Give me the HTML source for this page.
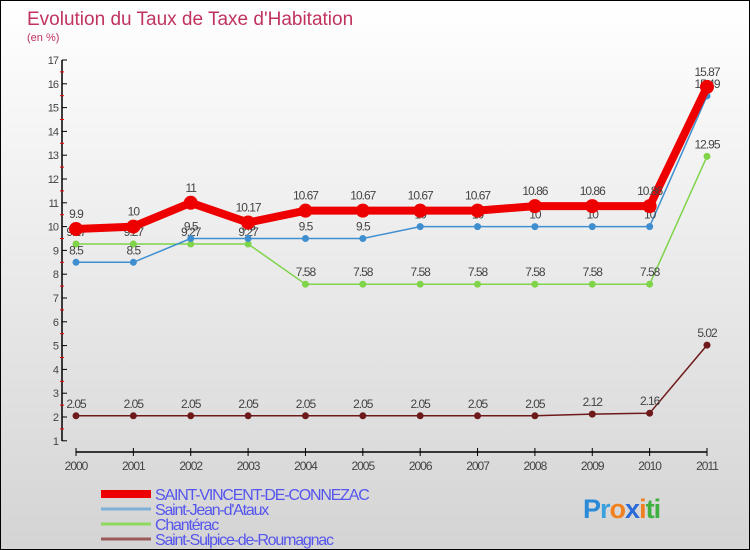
<!DOCTYPE html>
<html><head><meta charset="utf-8"><style>
body{margin:0}
#c{width:750px;height:550px;position:relative;box-sizing:border-box;border:1px solid #000;background:linear-gradient(#ffffff,#d4d4d4);font-family:"Liberation Sans",sans-serif;overflow:hidden}
svg text{font-family:"Liberation Sans",sans-serif}
</style></head><body>
<div id="c">
<svg id="s" width="750" height="550">
<text x="26" y="24" font-size="19" fill="#c0335f">Evolution du Taux de Taxe d'Habitation</text>
<text x="26" y="40" font-size="11" fill="#c0335f">(en %)</text>
</svg>
</div>
<script>
const years=["2000","2001","2002","2003","2004","2005","2006","2007","2008","2009","2010","2011"];
const yTicks=[1,2,3,4,5,6,7,8,9,10,11,12,13,14,15,16,17];
const redVals=[9.9,10,11,10.17,10.67,10.67,10.67,10.67,10.86,10.86,10.86,15.87];
const blueVals=[8.5,8.5,9.5,9.5,9.5,9.5,10,10,10,10,10,15.49];
const greenVals=[9.27,9.27,9.27,9.27,7.58,7.58,7.58,7.58,7.58,7.58,7.58,12.95];
const brownVals=[2.05,2.05,2.05,2.05,2.05,2.05,2.05,2.05,2.05,2.12,2.16,5.02];
const seriesNames=["SAINT-VINCENT-DE-CONNEZAC","Saint-Jean-d'Ataux","Chantérac","Saint-Sulpice-de-Roumagnac"];
const NS="http://www.w3.org/2000/svg",s=document.getElementById('s');
const X=i=>75+i*(631/11), Y=v=>416-(v-2)*23.8;
function el(t,a,p){const e=document.createElementNS(NS,t);for(const k in a)e.setAttribute(k,a[k]);(p||s).appendChild(e);return e;}
// axes
let ax=el('line',{x1:61,y1:59,x2:61,y2:440,stroke:'#000','stroke-width':1.5});


yTicks.forEach(v=>{
 el('line',{x1:61,y1:Y(v),x2:66,y2:Y(v),stroke:'#000'});
 if(v<17) el('line',{x1:59,y1:Y(v+0.5),x2:63,y2:Y(v+0.5),stroke:'#e00'});
 const t=el('text',{x:57,y:Y(v)+4,'font-size':11,fill:'#444','text-anchor':'end','letter-spacing':'-1'});
 t.textContent=v;
 
 
});
let xa=el('line',{x1:75,y1:451,x2:706,y2:451,stroke:'#000','stroke-width':1.5});


years.forEach((y,i)=>{
 el('line',{x1:X(i),y1:447,x2:X(i),y2:455,stroke:'#000'});
 const t=el('text',{x:X(i),y:469,'font-size':12,fill:'#444','text-anchor':'middle','letter-spacing':'-1'});
 t.textContent=y;
 
 
});
function series(vals,color,w,r,name,lblDy){
 const g=el('g',{});
 
 
 el('polyline',{points:vals.map((v,i)=>X(i)+','+Y(v)).join(' '),fill:'none',stroke:color,'stroke-width':w,'stroke-linejoin':'round'},g);
 vals.forEach((v,i)=>{
  const c=el('circle',{cx:X(i),cy:Y(v),r:r,fill:color},g);
  
  
  const t=el('text',{x:X(i),y:Y(v)-lblDy,'font-size':12,fill:'#444','text-anchor':'middle','letter-spacing':'-1'},g);
  t.textContent=String(v);
  
  
 });
}
series(brownVals,'#6e1a1a',1.5,3.5,'series-saint-sulpice',8);
series(greenVals,'#7fd44a',1.5,3.5,'series-chanterac',8);
series(blueVals,'#3f8fd0',1.5,3.5,'series-saint-jean',8);
series(redVals,'#ee0000',8,7,'series-saint-vincent',11);
// legend
const lc=['#ee0000','#7fb0d8','#8fd860','#9a5a5a'],lw=[8,3,3,3];
seriesNames.forEach((n,i)=>{
 const y=493+i*15;
 const l=el('line',{x1:100,y1:y,x2:150,y2:y,stroke:lc[i],'stroke-width':lw[i]});
 
 
 const t=el('text',{x:154,y:y+6,'font-size':16,fill:'#5555ee','letter-spacing':'-1.2'});
 t.textContent=n;
 
 
});
// logo
const lg=el('text',{x:582,y:517,'font-size':27,'font-weight':'bold','letter-spacing':'-1'});


[['P','#2a8ad8'],['r','#3aa0e0'],['o','#f08020'],['x','#2a6ad8'],['i','#f08020'],['t','#40b040'],['i','#40b040']].forEach(([c,f])=>{el('tspan',{fill:f},lg).textContent=c;});
</script>
</body></html>
